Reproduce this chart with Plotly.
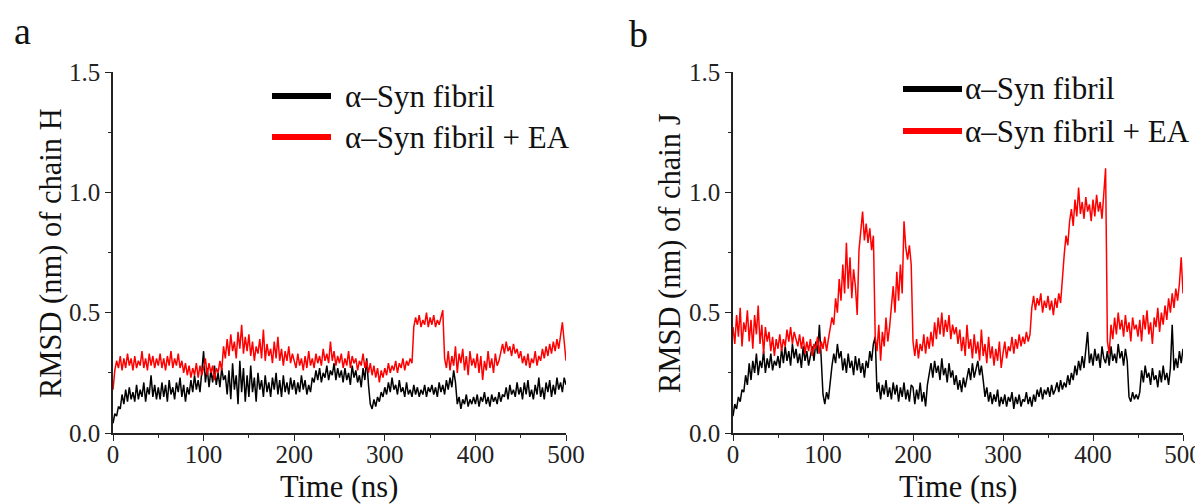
import numpy as np
import plotly.graph_objects as go

# Time axis (ns), sampled every 2 ns
time_ns = np.arange(0, 500.01, 2.0)

# Panel a: RMSD of chain H (nm)
chainH_fibril = [
    0.04,0.08,0.07,0.11,0.10,0.16,0.12,0.18,0.13,0.19,0.14,0.17,0.13,0.20,0.14,0.18,0.15,0.21,0.13,0.19,0.16,0.24,0.15,0.20,0.14,
    0.19,0.14,0.21,0.15,0.20,0.13,0.22,0.16,0.19,0.14,0.21,0.17,0.23,0.15,0.20,0.13,0.19,0.16,0.22,0.17,0.24,0.18,0.22,0.17,0.25,
    0.34,0.21,0.27,0.19,0.26,0.21,0.28,0.20,0.25,0.19,0.27,0.22,0.24,0.16,0.26,0.14,0.29,0.18,0.24,0.12,0.30,0.17,0.27,0.13,0.24,
    0.15,0.28,0.17,0.23,0.13,0.25,0.18,0.22,0.15,0.24,0.17,0.21,0.15,0.23,0.18,0.25,0.16,0.22,0.15,0.24,0.17,0.21,0.16,0.23,0.18,
    0.22,0.16,0.21,0.17,0.24,0.18,0.22,0.16,0.20,0.17,0.23,0.21,0.26,0.22,0.27,0.21,0.25,0.23,0.28,0.22,0.26,0.24,0.29,0.22,0.27,
    0.23,0.26,0.21,0.27,0.22,0.25,0.20,0.28,0.23,0.26,0.21,0.24,0.19,0.27,0.22,0.31,0.20,0.12,0.10,0.14,0.11,0.15,0.13,0.17,0.15,
    0.19,0.16,0.21,0.17,0.23,0.18,0.20,0.16,0.22,0.17,0.19,0.15,0.21,0.16,0.18,0.15,0.20,0.16,0.19,0.15,0.18,0.16,0.20,0.15,0.19,
    0.17,0.20,0.16,0.19,0.15,0.21,0.17,0.20,0.16,0.22,0.18,0.23,0.19,0.26,0.21,0.12,0.15,0.10,0.14,0.12,0.16,0.11,0.14,0.12,0.15,
    0.12,0.16,0.11,0.15,0.13,0.17,0.12,0.15,0.11,0.16,0.13,0.15,0.12,0.17,0.13,0.16,0.15,0.19,0.14,0.20,0.16,0.18,0.15,0.21,0.16,
    0.19,0.14,0.21,0.16,0.22,0.15,0.18,0.14,0.20,0.16,0.23,0.15,0.19,0.14,0.21,0.17,0.22,0.15,0.20,0.16,0.23,0.18,0.21,0.17,0.23,
    0.20,
]
chainH_fibril_EA = [
    0.18,0.26,0.30,0.27,0.32,0.26,0.31,0.27,0.33,0.28,0.31,0.26,0.32,0.27,0.30,0.28,0.34,0.27,0.31,0.26,0.33,0.28,0.32,0.27,0.31,
    0.28,0.33,0.27,0.31,0.26,0.32,0.28,0.34,0.27,0.31,0.28,0.33,0.27,0.30,0.25,0.29,0.24,0.28,0.23,0.27,0.24,0.29,0.23,0.28,0.24,
    0.27,0.31,0.24,0.29,0.25,0.28,0.22,0.27,0.25,0.30,0.26,0.36,0.31,0.39,0.32,0.41,0.34,0.38,0.31,0.42,0.35,0.45,0.33,0.40,0.34,
    0.41,0.32,0.38,0.30,0.36,0.33,0.39,0.31,0.43,0.30,0.37,0.32,0.35,0.29,0.38,0.31,0.40,0.30,0.35,0.28,0.34,0.30,0.36,0.29,0.33,
    0.30,0.27,0.33,0.28,0.31,0.26,0.32,0.27,0.34,0.28,0.31,0.27,0.33,0.29,0.32,0.28,0.35,0.30,0.33,0.29,0.38,0.30,0.34,0.28,0.32,
    0.29,0.33,0.27,0.31,0.28,0.34,0.27,0.32,0.29,0.31,0.26,0.30,0.28,0.33,0.27,0.30,0.25,0.29,0.24,0.28,0.23,0.27,0.21,0.26,0.23,
    0.27,0.24,0.29,0.25,0.28,0.26,0.30,0.25,0.29,0.27,0.31,0.26,0.30,0.28,0.31,0.29,0.44,0.48,0.45,0.49,0.44,0.47,0.45,0.50,0.44,
    0.48,0.45,0.49,0.44,0.47,0.45,0.48,0.51,0.31,0.27,0.34,0.26,0.32,0.28,0.36,0.25,0.33,0.29,0.35,0.26,0.32,0.24,0.34,0.28,0.31,
    0.27,0.33,0.25,0.32,0.22,0.30,0.26,0.34,0.27,0.31,0.25,0.33,0.28,0.30,0.34,0.37,0.33,0.38,0.34,0.36,0.32,0.37,0.33,0.35,0.31,
    0.34,0.29,0.32,0.28,0.33,0.27,0.31,0.29,0.34,0.28,0.32,0.30,0.35,0.31,0.36,0.32,0.37,0.33,0.38,0.34,0.39,0.35,0.40,0.46,0.38,
    0.30,
]

# Panel b: RMSD of chain J (nm)
chainJ_fibril = [
    0.07,0.12,0.10,0.15,0.13,0.18,0.17,0.24,0.20,0.29,0.22,0.30,0.25,0.33,0.24,0.30,0.27,0.34,0.25,0.31,0.27,0.33,0.26,0.30,0.28,
    0.32,0.27,0.35,0.29,0.36,0.30,0.34,0.28,0.37,0.31,0.35,0.29,0.33,0.27,0.36,0.30,0.34,0.28,0.32,0.36,0.30,0.38,0.33,0.45,0.31,
    0.16,0.12,0.17,0.14,0.22,0.28,0.33,0.29,0.37,0.31,0.34,0.26,0.31,0.25,0.33,0.27,0.30,0.24,0.32,0.26,0.31,0.25,0.29,0.23,0.30,
    0.27,0.34,0.30,0.37,0.40,0.17,0.21,0.14,0.20,0.16,0.22,0.15,0.19,0.14,0.21,0.16,0.20,0.13,0.19,0.15,0.21,0.14,0.18,0.13,0.20,
    0.19,0.12,0.18,0.14,0.21,0.13,0.17,0.11,0.20,0.24,0.29,0.23,0.30,0.25,0.28,0.22,0.31,0.24,0.27,0.21,0.29,0.23,0.26,0.20,0.24,
    0.18,0.22,0.17,0.23,0.19,0.24,0.27,0.22,0.29,0.23,0.26,0.30,0.24,0.28,0.22,0.15,0.19,0.13,0.17,0.12,0.16,0.13,0.18,0.11,0.15,
    0.12,0.16,0.11,0.15,0.13,0.17,0.10,0.15,0.12,0.16,0.11,0.14,0.13,0.17,0.12,0.15,0.11,0.16,0.13,0.18,0.15,0.19,0.14,0.18,0.16,
    0.19,0.15,0.20,0.16,0.18,0.21,0.17,0.22,0.18,0.21,0.19,0.24,0.20,0.25,0.22,0.28,0.24,0.30,0.26,0.32,0.27,0.34,0.42,0.29,0.33,
    0.28,0.35,0.30,0.33,0.27,0.36,0.31,0.29,0.34,0.28,0.36,0.30,0.33,0.29,0.37,0.31,0.34,0.28,0.35,0.30,0.15,0.13,0.17,0.14,0.16,
    0.14,0.17,0.26,0.21,0.28,0.23,0.25,0.20,0.27,0.22,0.24,0.19,0.26,0.21,0.28,0.22,0.25,0.20,0.27,0.45,0.26,0.31,0.27,0.34,0.29,
    0.35,
]
chainJ_fibril_EA = [
    0.44,0.37,0.49,0.40,0.52,0.36,0.46,0.42,0.51,0.38,0.47,0.35,0.49,0.41,0.53,0.37,0.45,0.33,0.44,0.38,0.42,0.34,0.40,0.32,0.39,
    0.35,0.41,0.34,0.39,0.36,0.43,0.38,0.44,0.37,0.42,0.39,0.36,0.41,0.35,0.40,0.33,0.38,0.34,0.39,0.32,0.37,0.35,0.40,0.33,0.38,
    0.35,0.40,0.34,0.39,0.43,0.48,0.45,0.56,0.50,0.64,0.55,0.70,0.58,0.79,0.60,0.73,0.56,0.68,0.61,0.49,0.76,0.84,0.92,0.80,0.87,
    0.79,0.85,0.76,0.82,0.40,0.34,0.45,0.30,0.42,0.36,0.48,0.38,0.44,0.52,0.61,0.50,0.67,0.55,0.70,0.58,0.88,0.77,0.72,0.78,0.70,
    0.38,0.32,0.39,0.31,0.37,0.34,0.41,0.33,0.40,0.35,0.42,0.36,0.46,0.39,0.48,0.41,0.50,0.40,0.47,0.42,0.49,0.39,0.45,0.41,0.44,
    0.37,0.43,0.34,0.40,0.32,0.45,0.35,0.39,0.31,0.41,0.33,0.38,0.30,0.43,0.32,0.37,0.29,0.40,0.31,0.36,0.28,0.35,0.30,0.38,0.27,
    0.33,0.38,0.31,0.36,0.34,0.40,0.33,0.39,0.35,0.41,0.36,0.40,0.37,0.42,0.38,0.41,0.52,0.57,0.51,0.56,0.53,0.58,0.50,0.55,0.52,
    0.57,0.51,0.55,0.49,0.56,0.52,0.58,0.54,0.66,0.74,0.82,0.78,0.88,0.93,0.86,0.97,0.90,1.02,0.91,0.96,0.89,0.98,0.92,0.95,0.88,
    0.97,0.90,0.99,0.92,0.96,0.89,1.00,1.10,0.38,0.33,0.45,0.39,0.48,0.41,0.50,0.43,0.47,0.40,0.49,0.42,0.46,0.38,0.48,0.43,0.45,
    0.40,0.47,0.38,0.49,0.43,0.51,0.41,0.46,0.37,0.48,0.44,0.52,0.42,0.50,0.45,0.53,0.47,0.56,0.50,0.58,0.52,0.60,0.55,0.62,0.73,
    0.58,
]

series_names = ["\u03b1\u2013Syn fibril", "\u03b1\u2013Syn fibril + EA"]
series_colors = ["#000000", "#ff0000"]
panel_letters = ["a", "b"]
y_titles = ["RMSD (nm) of chain H", "RMSD (nm) of chain J"]
x_title = "Time (ns)"
x_ticks = [0, 100, 200, 300, 400, 500]
y_ticks = [0.0, 0.5, 1.0, 1.5]
y_ticklabels = ["0.0", "0.5", "1.0", "1.5"]

# The page body adds an 8 px margin, so the figure is laid out 8 px in from
# the window's top-left corner; positions below are given in window pixels.
OFF = 8
W, H = 1203, 504
FONT = "Liberation Serif"

def px_x(p):
    return (p - OFF) / W

def px_y(p):
    return 1 - (p - OFF) / H

fig = go.Figure()

panels = [
    dict(xa="x", ya="y", data=[chainH_fibril, chainH_fibril_EA]),
    dict(xa="x2", ya="y2", data=[chainJ_fibril, chainJ_fibril_EA]),
]
for p in panels:
    for vals, name, col in zip(p["data"], series_names, series_colors):
        fig.add_trace(go.Scatter(x=time_ns, y=vals, mode="lines", name=name,
                                 line=dict(color=col, width=1.5), showlegend=False,
                                 xaxis=p["xa"], yaxis=p["ya"]))

ydom = [px_y(433), px_y(72)]
axis_common = dict(showgrid=False, zeroline=False, showline=True, linecolor="#222",
                   linewidth=1.5, ticks="outside", ticklen=6, tickwidth=1.3,
                   tickcolor="#222", automargin=False,
                   tickfont=dict(family=FONT, size=25, color="#222"))
xaxis_common = dict(axis_common, range=[0, 500], tickvals=x_ticks, ticklabelstandoff=-8,
                    minor=dict(ticks="outside", ticklen=3, tickwidth=1.2, tickcolor="#222", dtick=50, tick0=0))
yaxis_common = dict(axis_common, range=[0, 1.5], tickvals=y_ticks, ticktext=y_ticklabels,
                    minor=dict(ticks="outside", ticklen=3, tickwidth=1.2, tickcolor="#222", dtick=0.25, tick0=0))

fig.update_layout(
    template="none",
    width=W, height=H, margin=dict(l=0, r=0, t=0, b=0, pad=0, autoexpand=False),
    paper_bgcolor="white", plot_bgcolor="white", showlegend=False,
    font=dict(family=FONT),
    xaxis=dict(xaxis_common, domain=[px_x(113), px_x(566)], anchor="y"),
    yaxis=dict(yaxis_common, domain=ydom, anchor="x"),
    xaxis2=dict(xaxis_common, domain=[px_x(733), px_x(1183)], anchor="y2"),
    yaxis2=dict(yaxis_common, domain=ydom, anchor="x2"),
)

annotations = []
shapes = []
# Panel letters
for letter, (lx, ly) in zip(panel_letters, [(22, 31), (638, 34)]):
    annotations.append(dict(text=letter, x=px_x(lx), y=px_y(ly), xref="paper", yref="paper",
                            showarrow=False, font=dict(family=FONT, size=38, color="#111"),
                            xanchor="center", yanchor="middle"))
# Axis titles
for title, cx in zip(y_titles, [51, 670]):
    annotations.append(dict(text=title, x=px_x(cx), y=px_y(253), xref="paper", yref="paper",
                            showarrow=False, textangle=-90,
                            font=dict(family=FONT, size=30.5, color="#111"),
                            xanchor="center", yanchor="middle"))
for cx in [339, 958]:
    annotations.append(dict(text=x_title, x=px_x(cx), y=px_y(487), xref="paper", yref="paper",
                            showarrow=False, font=dict(family=FONT, size=30.5, color="#111"),
                            xanchor="center", yanchor="middle"))
# Legends (drawn per panel)
legend_layout = [
    dict(x0=272, x1=331, tx=343, rows=[96, 137]),
    dict(x0=903, x1=962, tx=963, rows=[89, 131]),
]
for lg in legend_layout:
    for name, col, ry in zip(series_names, series_colors, lg["rows"]):
        shapes.append(dict(type="line", xref="paper", yref="paper",
                           x0=px_x(lg["x0"]), x1=px_x(lg["x1"]), y0=px_y(ry), y1=px_y(ry),
                           line=dict(color=col, width=6)))
        annotations.append(dict(text=name, x=px_x(lg["tx"]), y=px_y(ry), xref="paper", yref="paper",
                                showarrow=False, font=dict(family=FONT, size=31, color="#111"),
                                xanchor="left", yanchor="middle"))

fig.update_layout(annotations=annotations, shapes=shapes)
fig.write_html("out.html")
